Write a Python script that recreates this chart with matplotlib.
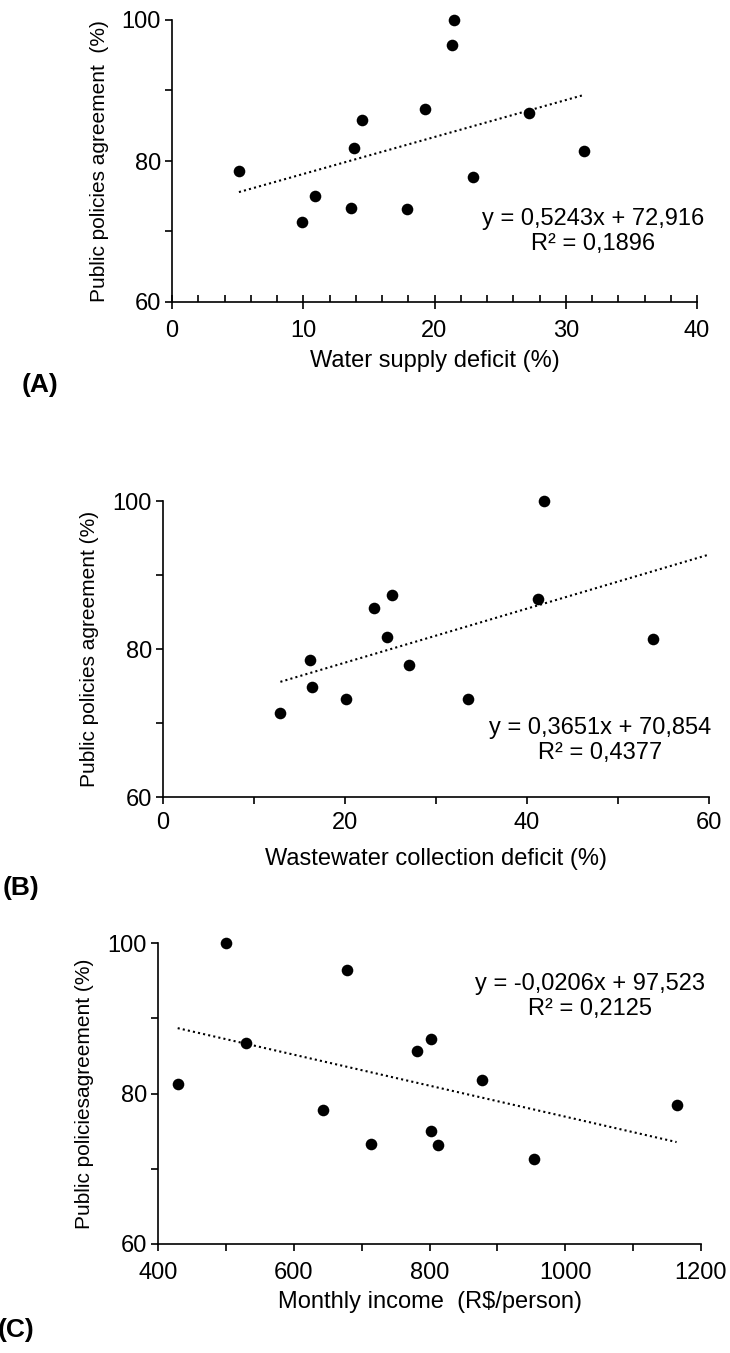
import matplotlib
matplotlib.use("Agg")
import matplotlib.pyplot as plt
from matplotlib.ticker import MultipleLocator, FixedLocator
import numpy as np

plt.rcParams['font.family'] = ['Liberation Sans', 'DejaVu Sans']

# Panel A: water supply deficit
water_deficit = [5.1, 9.9, 10.9, 13.6, 13.9, 14.5, 17.9, 19.3, 21.3, 21.5, 22.9, 27.2, 31.4]
agree_a = [78.6, 71.4, 75.1, 73.3, 81.8, 85.8, 73.2, 87.4, 96.5, 100.0, 77.8, 86.8, 81.4]
slope_a, icpt_a = 0.5243, 72.916
eq_a = "y = 0,5243x + 72,916\nR² = 0,1896"

# Panel B: wastewater collection deficit
waste_deficit = [12.9, 16.1, 16.4, 20.1, 23.2, 24.6, 25.2, 27.0, 33.5, 41.2, 41.9, 53.9]
agree_b = [71.3, 78.5, 74.9, 73.2, 85.6, 81.6, 87.3, 77.8, 73.3, 86.7, 100.0, 81.3]
slope_b, icpt_b = 0.3651, 70.854
eq_b = "y = 0,3651x + 70,854\nR² = 0,4377"

# Panel C: monthly income
income = [429, 500, 530, 643, 678, 714, 781, 802, 802, 812, 877, 954, 1164]
agree_c = [81.3, 100.0, 86.7, 77.8, 96.4, 73.3, 85.6, 87.3, 75.0, 73.2, 81.8, 71.3, 78.5]
slope_c, icpt_c = -0.0206, 97.523
eq_c = "y = -0,0206x + 97,523\nR² = 0,2125"

W, H = 730, 1353
fig = plt.figure(figsize=(W / 100, H / 100), dpi=100)

FS = 17
FSY = 15
LW = 1.2
MS = 70


def make_ax(left, right, top, bottom):
    return fig.add_axes([left / W, 1 - bottom / H, (right - left) / W, (bottom - top) / H])


def style(ax):
    for s in ['top', 'right']:
        ax.spines[s].set_visible(False)
    for s in ['left', 'bottom']:
        ax.spines[s].set_linewidth(LW)
    ax.set_ylim(60, 100)
    ax.yaxis.set_major_locator(FixedLocator([60, 80, 100]))
    ax.yaxis.set_minor_locator(FixedLocator([70, 90]))
    ax.tick_params(axis='y', which='both', direction='out', length=5, width=LW, labelsize=FS, pad=3)
    ax.tick_params(axis='x', labelsize=FS)


def trend(ax, xs, slope, icpt, xmax=None):
    x0 = min(xs)
    x1 = max(xs) if xmax is None else xmax
    xx = np.array([x0, x1])
    ax.plot(xx, slope * xx + icpt, color='black', lw=1.5, linestyle=(0, (1, 1.5)), zorder=2)


def points(ax, xs, ys):
    ax.scatter(xs, ys, s=MS, color='black', zorder=3, linewidths=0, clip_on=False)


# ---- Panel A
axA = make_ax(172, 697, 20, 302)
style(axA)
axA.set_xlim(0, 40)
axA.xaxis.set_major_locator(MultipleLocator(10))
axA.xaxis.set_minor_locator(MultipleLocator(2))
axA.tick_params(axis='x', which='major', direction='inout', length=10, width=LW, pad=8)
axA.tick_params(axis='x', which='minor', direction='in', length=5, width=LW)
points(axA, water_deficit, agree_a)
trend(axA, water_deficit, slope_a, icpt_a)
axA.text(32.1, 70.0, eq_a, ha='center', va='center', fontsize=FS, linespacing=1.15)
axA.set_xlabel("Water supply deficit (%)", fontsize=FS, labelpad=6)
axA.set_ylabel("Public policies agreement  (%)", fontsize=FSY, labelpad=9)

# ---- Panel B
axB = make_ax(163, 709, 501, 797)
style(axB)
axB.set_xlim(0, 60)
axB.xaxis.set_major_locator(MultipleLocator(20))
axB.xaxis.set_minor_locator(MultipleLocator(10))
axB.tick_params(axis='x', which='both', direction='out', length=5, width=LW, pad=6)
points(axB, waste_deficit, agree_b)
trend(axB, waste_deficit, slope_b, icpt_b, xmax=60)
axB.text(48.0, 67.6, eq_b, ha='center', va='center', fontsize=FS, linespacing=1.15)
axB.set_xlabel("Wastewater collection deficit (%)", fontsize=FS, labelpad=10)
axB.set_ylabel("Public policies agreement (%)", fontsize=FSY, labelpad=10)

# ---- Panel C
axC = make_ax(158, 701, 943, 1244)
style(axC)
axC.set_xlim(400, 1200)
axC.xaxis.set_major_locator(MultipleLocator(200))
axC.xaxis.set_minor_locator(MultipleLocator(100))
axC.tick_params(axis='x', which='both', direction='out', length=5, width=LW, pad=8)
points(axC, income, agree_c)
trend(axC, income, slope_c, icpt_c)
axC.text(1036, 92.9, eq_c, ha='center', va='center', fontsize=FS, linespacing=1.15)
axC.set_xlabel("Monthly income  (R\\$/person)", fontsize=FS, labelpad=5)
axC.set_ylabel("Public policiesagreement (%)", fontsize=FSY, labelpad=10)

# panel letters
fig.text(40 / W, 1 - 385 / H, "(A)", fontsize=19, fontweight='bold', ha='center', va='center')
fig.text(21 / W, 1 - 888 / H, "(B)", fontsize=19, fontweight='bold', ha='center', va='center')
fig.text(16 / W, 1 - 1330 / H, "(C)", fontsize=19, fontweight='bold', ha='center', va='center')

fig.savefig("out.png", dpi=100, facecolor='white')
